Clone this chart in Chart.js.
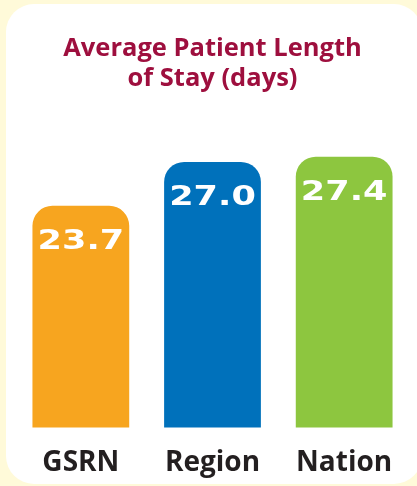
<!DOCTYPE html>
<html>
<head>
<meta charset="utf-8">
<script src="https://cdn.jsdelivr.net/npm/chart.js@4.4.0/dist/chart.umd.min.js"></script>
<style>
    html, body {
        margin: 0;
        padding: 0;
        background: #fffad9;
        width: 417px;
        height: 486px;
        overflow: hidden;
    }
    .panel {
        position: absolute;
        left: 6px;
        top: 4px;
        width: 416px;
        height: 480px;
        background: #ffffff;
        border-radius: 28px;
    }
    #chartWrap {
        position: absolute;
        left: 0;
        top: 0;
        width: 417px;
        height: 491px;
    }
</style>
</head>
<body>
<div class="panel"></div>
<div id="chartWrap"><canvas id="losChart"></canvas></div>
<script>
// Chart data
const categories = ['GSRN', 'Region', 'Nation'];
const stayDays = [23.7, 27.0, 27.4];
const valueLabels = ['23.7', '27.0', '27.4'];
const barColors = ['#f7a51f', '#0071bb', '#8dc63f'];
const titleLines = ['Average Patient Length', 'of Stay (days)'];

// Draw the value text inside the top of each bar, stretched wide
const valueLabelPlugin = {
    id: 'valueLabels',
    afterDatasetsDraw(chart) {
        const ctx = chart.ctx;
        const meta = chart.getDatasetMeta(0);
        const stretch = 1.3;
        ctx.save();
        ctx.fillStyle = '#ffffff';
        ctx.font = 'bold 27px "DejaVu Sans"';
        ctx.textAlign = 'center';
        ctx.textBaseline = 'alphabetic';
        meta.data.forEach((bar, i) => {
            ctx.save();
            ctx.translate(bar.x, bar.y + 43);
            ctx.scale(stretch, 1);
            ctx.fillText(valueLabels[i], 0, 0);
            ctx.restore();
        });
        ctx.restore();
    }
};

function initializeChart() {
    const ctx = document.getElementById('losChart');

    new Chart(ctx, {
        type: 'bar',
        data: {
            labels: categories,
            datasets: [{
                data: stayDays,
                backgroundColor: barColors,
                borderRadius: 20,
                borderSkipped: false,
                barPercentage: 0.735,
                categoryPercentage: 1.0
            }]
        },
        options: {
            responsive: true,
            maintainAspectRatio: false,
            animation: false,
            layout: {
                padding: { left: 15, right: 7, top: 34, bottom: 0 }
            },
            scales: {
                x: {
                    grid: { display: false },
                    border: { display: false },
                    ticks: {
                        color: '#231f20',
                        padding: 11,
                        font: { family: '"Open Sans"', size: 28, weight: 'bold' }
                    }
                },
                y: {
                    display: false,
                    min: 7,
                    max: 30
                }
            },
            plugins: {
                legend: { display: false },
                tooltip: { enabled: false },
                title: {
                    display: true,
                    text: titleLines,
                    color: '#9e0f3e',
                    font: { family: '"Open Sans"', size: 25.5, weight: 'bold', lineHeight: 1.18 },
                    padding: { top: 0, bottom: 28 }
                }
            }
        },
        plugins: [valueLabelPlugin]
    });
}

document.addEventListener('DOMContentLoaded', initializeChart);
</script>
</body>
</html>
